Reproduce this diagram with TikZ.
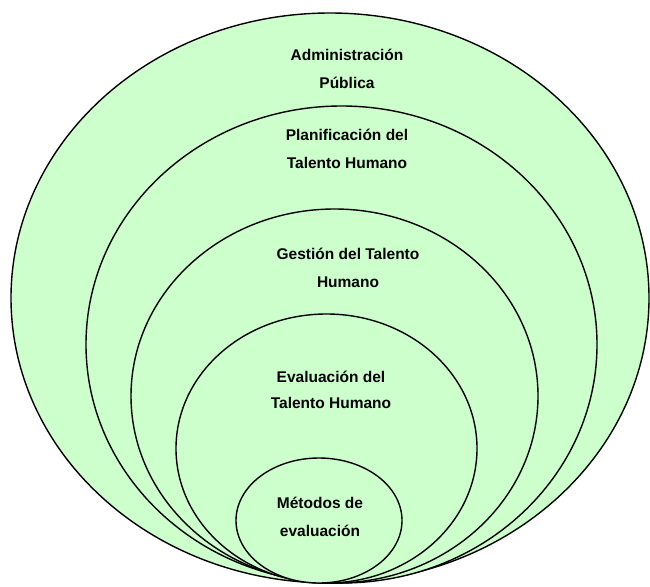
\documentclass[tikz,border=0pt]{standalone}
\usepackage{fontspec}
\setmainfont{Liberation Sans}
\usetikzlibrary{shapes.geometric,positioning}
\definecolor{palegreen}{HTML}{CCFFCC}
\tikzset{
ring/.style={ellipse, draw=black, line width=1.4pt, fill=palegreen, inner sep=0pt},
ringtext/.style={align=center, inner sep=0pt, font=\fontsize{15.5}{28}\selectfont\bfseries},
}

\begin{document}
\begin{tikzpicture}[x=1pt, y=-1pt]
\useasboundingbox (0,0) rectangle (650,586);

% nested levels, all touching at the bottom
\node[ring, minimum width=638pt, minimum height=570pt] (admin) at (330,298) {};
\node[ring, minimum width=511pt, minimum height=477pt] (plan) at (341.5,344.5) {};
\node[ring, minimum width=407pt, minimum height=374pt] (gest) at (334.5,396) {};
\node[ring, minimum width=301pt, minimum height=269pt] (eval) at (326.5,448.5) {};
\node[ring, minimum width=166pt, minimum height=125pt] (metod) at (319,520.5) {};

\node[ringtext] (admintext) at (347,69) {Administración\\Pública};
\node[ringtext] (plantext) at (347,149) {Planificación del\\Talento Humano};
\node[ringtext] (gesttext) at (348,268) {Gestión del Talento\\Humano};
\node[ringtext, font=\fontsize{15.5}{26.5}\selectfont\bfseries] (evaltext) at (331,390) {Evaluación del\\Talento Humano};
\node[ringtext] (metodtext) at (320,517) {Métodos de\\evaluación};

\end{tikzpicture}
\end{document}
